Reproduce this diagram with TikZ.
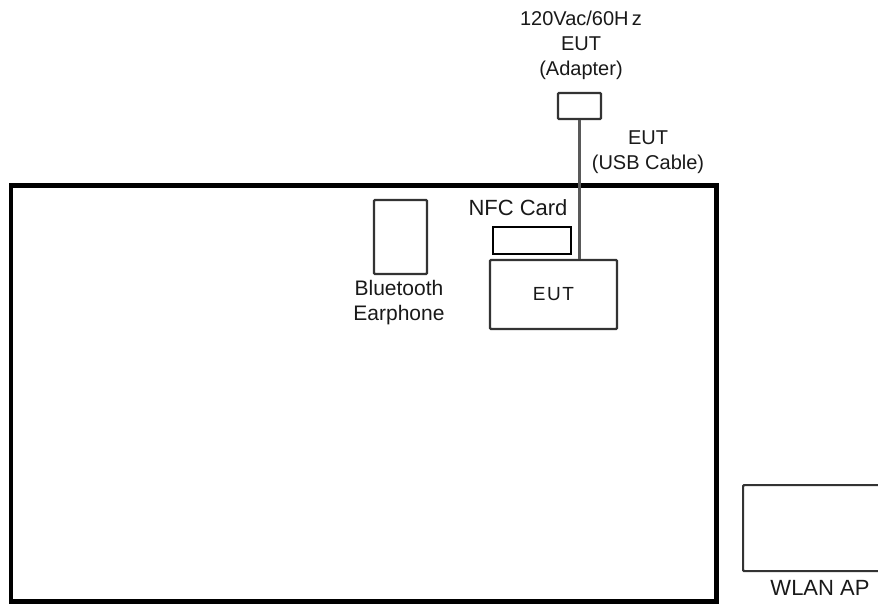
\documentclass[tikz,border=0pt]{standalone}
\usepackage{fontspec}
\setmainfont{Liberation Sans}
\begin{document}
\begin{tikzpicture}[x=1pt,y=-1pt,
  lbl/.style={text=black!90, font=\fontsize{20}{25}\selectfont, inner sep=0pt, align=center},
  box/.style={draw=black!80, line width=2.2pt, inner sep=0pt, rounded corners=1pt},
  cable/.style={draw=black!65, line width=2.4pt}]
\useasboundingbox (0,0) rectangle (878,604);
\clip (0,0) rectangle (878,604);
% room
\draw[line width=4.5pt, black] (11,185.5) rectangle (716.5,601.5);
% boxes
\node[box, minimum width=43pt, minimum height=26pt] (adapter) at (579.5,106) {};
\node[box, minimum width=127pt, minimum height=69pt] (eut) at (553.5,294.5) {};
\node[box, line width=2pt, draw=black, rounded corners=0pt, minimum width=78pt, minimum height=27pt] (nfc) at (532,240.5) {};
\node[box, minimum width=53pt, minimum height=74pt] (bt) at (400.5,237) {};
\node[box, minimum width=160pt, minimum height=86pt, anchor=north west] (ap) at (742,484) {};
% cable
\draw[cable] (adapter.south) -- (adapter.south |- eut.north);
% labels
\node[lbl] (tAdapter) at (581,45) {120Vac/60H\,z\\EUT\\(Adapter)};
\node[lbl] (tUsb) at (648,152) {EUT\\(USB Cable)};
\node[lbl, font=\fontsize{22}{26}\selectfont] (tNfc) at (518,208) {NFC Card};
\node[lbl, font=\fontsize{21}{25}\selectfont] (tBt) at (399,302.5) {Bluetooth\\Earphone};
\node[lbl, font=\fontsize{19}{25}\selectfont\addfontfeatures{LetterSpace=8}] at (eut.center) {EUT};
\node[lbl, font=\fontsize{22}{25}\selectfont] (tAp) at (820,588) {WLAN AP};
\end{tikzpicture}
\end{document}
